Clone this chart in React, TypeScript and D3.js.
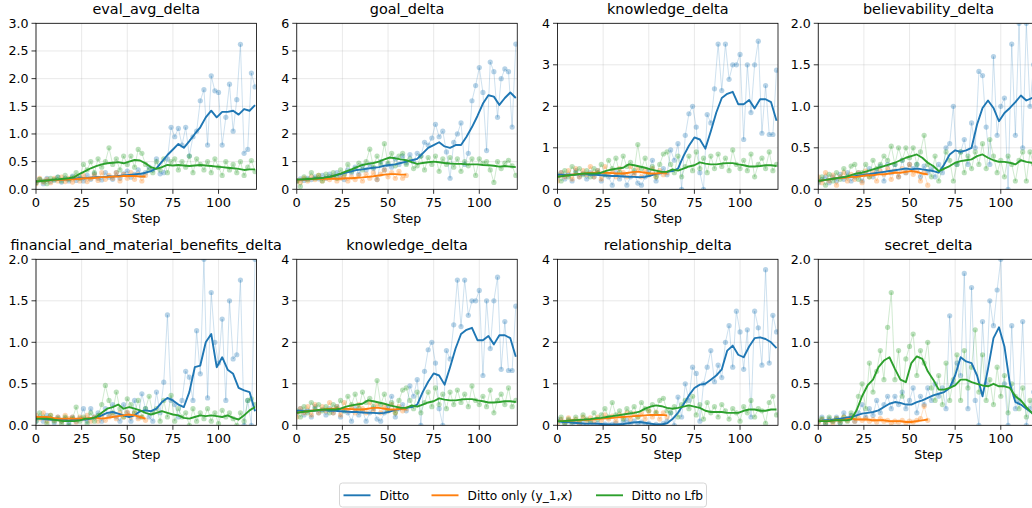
import React from 'react';
import * as d3 from 'd3';

// ---------- x positions (training steps) ----------
const rawSteps = d3.range(0, 121, 2);
const rawStepsShort = d3.range(0, 61, 2);
const smoothSteps = d3.range(0, 121, 3);
const smoothStepsShort = d3.range(0, 61, 3);

// ---------- panel titles / y limits ----------
const panelTitles = [
  'eval_avg_delta', 'goal_delta', 'knowledge_delta', 'believability_delta',
  'financial_and_material_benefits_delta', 'knowledge_delta', 'relationship_delta', 'secret_delta',
];
const panelYMax = [3, 6, 4, 2, 2, 4, 4, 2];
const xTicks = [0, 25, 50, 75, 100];
const seriesNames = ['Ditto', 'Ditto only (y_1,x)', 'Ditto no Lfb'];

// ---------- eval_avg_delta ----------
const evalDittoRaw = [
  0.12, 0.18, 0.1, 0.2, 0.14, 0.17, 0.22, 0.13, 0.2, 0.15,
  0.24, 0.16, 0.22, 0.15, 0.25, 0.18, 0.28, 0.2, 0.17, 0.3,
  0.22, 0.18, 0.3, 0.2, 0.28, 0.33, 0.22, 0.27, 0.35, 0.25,
  0.3, 0.4, 0.35, 0.55, 0.28, 0.3, 0.55, 1.12, 0.95, 1.1,
  0.8, 1.12, 0.6, 0.95, 1.05, 1.6, 1.8, 0.8, 2.05, 1.78,
  1.75, 0.8, 1.3, 1.9, 1.05, 1.62, 2.62, 0.65, 0.72, 2.1,
  1.85,
];
const evalDittoSmooth = [
  0.14, 0.15, 0.16, 0.17, 0.17, 0.18, 0.18, 0.19, 0.2, 0.2,
  0.21, 0.22, 0.22, 0.23, 0.23, 0.24, 0.25, 0.26, 0.27, 0.28,
  0.3, 0.33, 0.38, 0.5, 0.62, 0.72, 0.82, 0.75, 0.87, 1.0,
  1.12, 1.3, 1.42, 1.3, 1.4, 1.4, 1.42, 1.35, 1.45, 1.42,
  1.52,
];
const evalOnlyRaw = [
  0.1, 0.2, 0.13, 0.18, 0.12, 0.2, 0.15, 0.22, 0.14, 0.2,
  0.13, 0.22, 0.15, 0.25, 0.14, 0.2, 0.26, 0.16, 0.3, 0.18,
  0.25, 0.2, 0.3, 0.15, 0.27, 0.2, 0.3, 0.18, 0.27, 0.15,
  0.25,
];
const evalOnlySmooth = [
  0.14, 0.15, 0.16, 0.17, 0.17, 0.17, 0.18, 0.18, 0.19, 0.2,
  0.2, 0.21, 0.22, 0.22, 0.23, 0.23, 0.24, 0.24, 0.24, 0.23,
  0.23,
];
const evalNoLfbRaw = [
  0.12, 0.18, 0.15, 0.1, 0.2, 0.17, 0.22, 0.15, 0.25, 0.18,
  0.22, 0.3, 0.2, 0.45, 0.35, 0.5, 0.3, 0.55, 0.4, 0.5,
  0.75, 0.45, 0.55, 0.35, 0.6, 0.45, 0.6, 0.4, 0.72, 0.65,
  0.45, 0.35, 0.3, 0.5, 0.35, 0.55, 0.3, 0.5, 0.55, 0.35,
  0.5, 0.4, 0.6, 0.3, 0.55, 0.45, 0.35, 0.5, 0.3, 0.55,
  0.4, 0.25, 0.5, 0.35, 0.45, 0.3, 0.5, 0.25, 0.4, 0.52,
  0.32,
];
const evalNoLfbSmooth = [
  0.14, 0.15, 0.16, 0.17, 0.18, 0.19, 0.2, 0.22, 0.28, 0.33,
  0.38, 0.42, 0.45, 0.47, 0.48, 0.49, 0.47, 0.5, 0.53, 0.52,
  0.47, 0.4, 0.37, 0.4, 0.44, 0.43, 0.44, 0.43, 0.42, 0.43,
  0.44, 0.43, 0.42, 0.41, 0.4, 0.39, 0.38, 0.37, 0.35, 0.36,
  0.36,
];

// ---------- goal_delta ----------
const goalDittoRaw = [
  0.3, 0.38, 0.32, 0.4, 0.35, 0.45, 0.38, 0.5, 0.4, 0.55,
  0.45, 0.6, 0.5, 0.35, 0.7, 0.6, 0.8, 0.55, 0.85, 0.7,
  0.9, 0.75, 0.35, 1.0, 0.7, 0.9, 0.8, 1.1, 0.9, 1.2,
  0.95, 1.25, 1.0, 1.3, 1.2, 1.7, 1.6, 1.85, 2.35, 1.9,
  2.1, 1.35, 0.4, 1.7, 2.0, 2.4, 0.9, 1.3, 3.2, 3.75,
  4.4, 3.5, 1.4, 4.6, 4.25, 2.6, 4.0, 4.35, 4.25, 2.25,
  5.25,
];
const goalDittoSmooth = [
  0.35, 0.35, 0.36, 0.38, 0.4, 0.42, 0.45, 0.5, 0.55, 0.6,
  0.65, 0.7, 0.72, 0.75, 0.78, 0.8, 0.85, 0.88, 0.9, 0.95,
  1.0, 1.05, 1.1, 1.3, 1.5, 1.6, 1.7, 1.55, 1.5, 1.6,
  1.6, 1.9, 2.25, 2.65, 3.1, 3.4, 3.35, 3.05, 3.3, 3.5,
  3.3,
];
const goalOnlyRaw = [
  0.3, 0.25, 0.4, 0.3, 0.45, 0.35, 0.5, 0.3, 0.4, 0.35,
  0.45, 0.3, 0.4, 0.5, 0.3, 0.45, 0.35, 0.5, 0.3, 0.55,
  0.4, 0.6, 0.35, 0.55, 0.7, 0.45, 0.6, 0.4, 0.65, 0.4,
  0.5,
];
const goalOnlySmooth = [
  0.35, 0.35, 0.36, 0.37, 0.38, 0.38, 0.38, 0.38, 0.38, 0.4,
  0.4, 0.42, 0.43, 0.45, 0.47, 0.5, 0.53, 0.55, 0.55, 0.53,
  0.53,
];
const goalNoLfbRaw = [
  0.3, 0.1, 0.45, 0.35, 0.6, 0.4, 0.5, 0.3, 0.55, 0.45,
  0.6, 0.4, 0.7, 0.55, 0.9, 0.65, 0.75, 0.95, 0.7, 1.0,
  1.45, 0.8, 1.2, 0.9, 1.65, 0.95, 1.3, 0.85, 1.2, 1.3,
  0.9, 1.1, 0.75, 0.85, 1.2, 0.7, 1.15, 0.9, 1.2, 0.65,
  1.1, 0.9, 1.15, 0.8, 1.1, 0.65, 1.0, 0.85, 1.1, 0.5,
  1.1, 0.95, 1.0, 0.7, 0.25, 1.0, 0.75, 0.95, 1.05, 0.85,
  0.5,
];
const goalNoLfbSmooth = [
  0.35, 0.36, 0.37, 0.38, 0.4, 0.42, 0.45, 0.5, 0.57, 0.65,
  0.72, 0.8, 0.88, 0.92, 0.95, 1.0, 1.08, 1.15, 1.12, 1.08,
  1.05, 0.98, 0.92, 0.95, 0.98, 1.0, 0.98, 0.95, 0.93, 0.92,
  0.92, 0.9, 0.9, 0.9, 0.88, 0.87, 0.85, 0.82, 0.84, 0.82,
  0.8,
];

// ---------- knowledge_delta ----------
const knowDittoRaw = [
  0.3, 0.4, 0.25, 0.35, 0.2, 0.45, 0.3, 0.38, 0.25, 0.4,
  0.3, 0.45, 0.2, 0.35, 0.3, 0.1, 0.4, 0.25, 0.35, 0.1,
  0.3, 0.4, 0.15, 0.1, 0.3, 0.45, 0.7, 0.2, 0.4, 0.5,
  0.35, 0.95, 0.7, 1.1, 0.0, 1.3, 1.82, 2.0, 1.5, 0.4,
  0.0, 1.8, 1.6, 2.42, 3.5, 2.38, 3.5, 2.65, 3.0, 3.0,
  3.25, 1.2, 3.0, 1.85, 3.0, 3.57, 1.35, 2.5, 1.32, 1.32,
  2.87,
];
const knowDittoSmooth = [
  0.35, 0.35, 0.35, 0.35, 0.36, 0.36, 0.35, 0.35, 0.34, 0.33,
  0.32, 0.32, 0.31, 0.3, 0.3, 0.29, 0.3, 0.33, 0.37, 0.4,
  0.42, 0.44, 0.5, 0.8, 1.05, 1.25, 1.2, 0.98, 1.4, 1.85,
  2.2, 2.3, 2.35, 2.05, 2.05, 2.15, 1.95, 2.17, 2.17, 2.1,
  1.65,
];
const knowOnlyRaw = [
  0.2, 0.4, 0.3, 0.45, 0.25, 0.5, 0.3, 0.45, 0.35, 0.55,
  0.3, 0.45, 0.25, 0.55, 0.35, 0.45, 0.3, 0.5, 0.4, 0.3,
  0.55, 0.35, 0.5, 0.3, 0.45, 0.35, 0.5, 0.3, 0.45, 0.35,
  0.4,
];
const knowOnlySmooth = [
  0.3, 0.32, 0.34, 0.36, 0.37, 0.38, 0.4, 0.4, 0.4, 0.4,
  0.39, 0.38, 0.38, 0.4, 0.42, 0.42, 0.4, 0.38, 0.38, 0.4,
  0.4,
];
const knowNoLfbRaw = [
  0.35, 0.2, 0.45, 0.3, 0.55, 0.4, 0.5, 0.35, 0.45, 0.3,
  0.5, 0.4, 0.6, 0.35, 0.7, 0.5, 0.75, 0.4, 0.8, 0.55,
  0.65, 0.45, 1.08, 0.5, 0.75, 0.35, 0.55, 0.3, 0.6, 0.85,
  0.9, 0.6, 0.4, 0.8, 0.3, 0.55, 0.8, 0.45, 0.9, 0.5,
  0.75, 0.4, 0.8, 0.5, 0.85, 0.55, 0.75, 0.45, 0.95, 0.6,
  0.5, 0.7, 0.45, 0.85, 0.3, 0.6, 0.75, 0.5, 0.9, 0.45,
  0.6,
];
const knowNoLfbSmooth = [
  0.3, 0.32, 0.34, 0.35, 0.37, 0.38, 0.38, 0.38, 0.4, 0.45,
  0.48, 0.5, 0.52, 0.6, 0.58, 0.55, 0.52, 0.48, 0.45, 0.42,
  0.42, 0.48, 0.45, 0.5, 0.55, 0.58, 0.65, 0.62, 0.6, 0.6,
  0.62, 0.63, 0.63, 0.6, 0.58, 0.55, 0.55, 0.56, 0.58, 0.58,
  0.56,
];

// ---------- believability_delta ----------
const belDittoRaw = [
  0.08, 0.12, 0.15, 0.08, 0.15, 0.1, 0.18, 0.12, 0.2, 0.1,
  0.15, 0.2, 0.1, 0.18, 0.25, 0.15, 0.22, 0.28, 0.1, 0.3,
  0.2, 0.3, 0.15, 0.35, 0.2, 0.3, 0.25, 0.3, 0.15, 0.28,
  0.2, 0.25, 0.15, 0.3, 0.2, 0.5, 0.55, 1.0, 0.3, 0.45,
  0.6, 0.3, 0.8, 0.5, 1.42, 1.37, 0.75, 0.3, 1.6, 0.65,
  1.0, 1.1, 0.0, 1.75, 0.65, 2.0, 0.5, 2.0, 1.0, 1.5,
  0.8,
];
const belDittoSmooth = [
  0.1, 0.11, 0.12, 0.13, 0.14, 0.15, 0.15, 0.16, 0.17, 0.18,
  0.19, 0.2, 0.21, 0.22, 0.23, 0.24, 0.25, 0.24, 0.25, 0.24,
  0.23, 0.22, 0.2, 0.3, 0.42, 0.47, 0.45, 0.47, 0.5, 0.78,
  0.98, 1.07, 0.98, 0.82, 0.92, 0.98, 1.05, 1.13, 1.07, 1.1,
  1.1,
];
const belOnlyRaw = [
  0.15, 0.08, 0.2, 0.1, 0.17, 0.05, 0.15, 0.2, 0.1, 0.18,
  0.12, 0.2, 0.08, 0.22, 0.15, 0.2, 0.1, 0.22, 0.18, 0.25,
  0.12, 0.22, 0.15, 0.25, 0.2, 0.3, 0.18, 0.22, 0.1, 0.2,
  0.05,
];
const belOnlySmooth = [
  0.1, 0.11, 0.12, 0.13, 0.14, 0.14, 0.15, 0.15, 0.16, 0.17,
  0.17, 0.18, 0.18, 0.19, 0.2, 0.2, 0.21, 0.22, 0.21, 0.19,
  0.18,
];
const belNoLfbRaw = [
  0.1, 0.15, 0.05, 0.18, 0.1, 0.2, 0.12, 0.25, 0.15, 0.28,
  0.3, 0.12, 0.2, 0.3, 0.15, 0.35, 0.25, 0.3, 0.4, 0.35,
  0.52, 0.3, 0.5, 0.35, 0.5, 0.38, 0.5, 0.3, 0.45, 0.65,
  0.3, 0.15, 0.4, 0.1, 0.25, 0.45, 0.35, 0.1, 0.3, 0.45,
  0.2, 0.4, 0.25, 0.45, 0.3, 0.55, 0.25, 0.6, 0.4, 0.2,
  0.35, 0.15, 0.4, 0.3, 0.1, 0.35, 0.45, 0.1, 0.45, 0.3,
  0.4,
];
const belNoLfbSmooth = [
  0.1, 0.11, 0.12, 0.13, 0.14, 0.15, 0.17, 0.19, 0.2, 0.22,
  0.24, 0.26, 0.28, 0.3, 0.32, 0.35, 0.38, 0.4, 0.42, 0.38,
  0.32, 0.28, 0.22, 0.25, 0.28, 0.32, 0.34, 0.35, 0.36, 0.4,
  0.42, 0.38, 0.35, 0.33, 0.33, 0.32, 0.3, 0.35, 0.33, 0.32,
  0.32,
];

// ---------- financial_and_material_benefits_delta ----------
const finDittoRaw = [
  0.05, 0.1, 0.05, 0.12, 0.08, 0.03, 0.1, 0.05, 0.08, 0.03,
  0.1, 0.05, 0.08, 0.2, 0.05, 0.2, 0.1, 0.15, 0.05, 0.2,
  0.12, 0.25, 0.1, 0.05, 0.25, 0.15, 0.05, 0.3, 0.1, 0.38,
  0.2, 0.1, 0.05, 0.4, 0.15, 0.52, 1.33, 0.3, 0.25, 0.1,
  0.3, 0.65, 0.58, 0.3, 1.14, 0.62, 2.0, 0.33, 1.6, 1.0,
  0.75, 1.28, 0.3, 1.5, 0.8, 0.85, 1.75, 0.0, 0.3, 0.0,
  2.0,
];
const finDittoSmooth = [
  0.08, 0.08, 0.07, 0.07, 0.07, 0.07, 0.06, 0.07, 0.07, 0.07,
  0.08, 0.09, 0.12, 0.15, 0.16, 0.14, 0.12, 0.1, 0.12, 0.17,
  0.18, 0.17, 0.2, 0.28, 0.33, 0.3, 0.25, 0.22, 0.4, 0.7,
  0.72, 1.0, 1.1, 0.7, 0.82, 0.67, 0.62, 0.45, 0.42, 0.4,
  0.17,
];
const finOnlyRaw = [
  0.12, 0.08, 0.15, 0.05, 0.12, 0.06, 0.1, 0.05, 0.12, 0.08,
  0.1, 0.04, 0.1, 0.08, 0.12, 0.05, 0.1, 0.05, 0.12, 0.06,
  0.1, 0.14, 0.08, 0.15, 0.1, 0.16, 0.1, 0.15, 0.08, 0.1,
  0.06,
];
const finOnlySmooth = [
  0.1, 0.1, 0.1, 0.09, 0.08, 0.08, 0.08, 0.08, 0.08, 0.08,
  0.09, 0.09, 0.08, 0.09, 0.1, 0.11, 0.12, 0.13, 0.12, 0.1,
  0.08,
];
const finNoLfbRaw = [
  0.05, 0.15, 0.1, 0.02, 0.12, 0.05, 0.08, 0.02, 0.1, 0.0,
  0.08, 0.22, 0.05, 0.1, 0.02, 0.15, 0.05, 0.12, 0.25, 0.48,
  0.3, 0.15, 0.4, 0.2, 0.1, 0.32, 0.25, 0.15, 0.3, 0.1,
  0.2, 0.35, 0.15, 0.2, 0.05, 0.3, 0.1, 0.36, 0.05, 0.2,
  0.1, 0.15, 0.0, 0.2, 0.05, 0.15, 0.08, 0.2, 0.05, 0.15,
  0.02, 0.18, 0.1, 0.15, 0.08, 0.0, 0.15, 0.05, 0.3, 0.32,
  0.25,
];
const finNoLfbSmooth = [
  0.08, 0.08, 0.08, 0.07, 0.06, 0.05, 0.05, 0.05, 0.06, 0.08,
  0.08, 0.1, 0.15, 0.2, 0.22, 0.25, 0.2, 0.22, 0.2, 0.18,
  0.15, 0.13, 0.15, 0.17, 0.15, 0.13, 0.12, 0.09, 0.08, 0.1,
  0.12, 0.11, 0.12, 0.11, 0.1, 0.12, 0.09, 0.07, 0.12, 0.18,
  0.22,
];

// ---------- relationship_delta ----------
const relDittoRaw = [
  0.15, 0.1, 0.05, 0.12, 0.02, 0.08, 0.03, 0.05, 0.0, 0.06,
  0.02, 0.05, 0.0, 0.03, 0.01, 0.02, 0.05, 0.0, 0.08, 0.12,
  0.05, 0.1, 0.02, 0.08, 0.0, 0.05, 0.0, 0.02, 0.0, 0.05,
  0.1, 0.3, 0.0, 0.68, 0.2, 1.0, 0.6, 1.4, 1.25, 0.1,
  1.0, 1.4, 1.8, 1.05, 1.45, 1.15, 2.0, 2.4, 1.4, 2.75,
  2.25, 1.35, 2.3, 0.2, 2.75, 2.35, 1.45, 3.75, 1.5, 2.65,
  2.25,
];
const relDittoSmooth = [
  0.1, 0.08, 0.07, 0.06, 0.05, 0.04, 0.04, 0.04, 0.03, 0.02,
  0.02, 0.02, 0.03, 0.05, 0.07, 0.08, 0.06, 0.04, 0.02, 0.02,
  0.05, 0.15, 0.3, 0.5, 0.72, 0.9, 0.98, 1.0, 1.1, 1.2,
  1.35, 1.8, 1.92, 1.7, 1.64, 1.9, 2.1, 2.12, 2.08, 2.0,
  1.86,
];
const relOnlyRaw = [
  0.05, 0.15, 0.08, 0.18, 0.1, 0.15, 0.05, 0.2, 0.12, 0.18,
  0.1, 0.2, 0.12, 0.25, 0.15, 0.22, 0.1, 0.25, 0.18, 0.3,
  0.15, 0.28, 0.2, 0.3, 0.15, 0.35, 0.2, 0.32, 0.15, 0.3,
  0.2,
];
const relOnlySmooth = [
  0.1, 0.1, 0.11, 0.12, 0.12, 0.13, 0.14, 0.15, 0.16, 0.17,
  0.18, 0.19, 0.2, 0.21, 0.22, 0.23, 0.24, 0.25, 0.25, 0.25,
  0.24,
];
const relNoLfbRaw = [
  0.1, 0.2, 0.05, 0.15, 0.08, 0.2, 0.1, 0.25, 0.15, 0.1,
  0.3, 0.15, 0.25, 0.4, 0.2, 0.55, 0.25, 0.35, 0.15, 0.4,
  0.3, 0.45, 0.2, 0.55, 0.4, 0.35, 0.5, 0.3, 0.6, 0.65,
  0.35, 0.3, 0.45, 0.2, 0.5, 0.6, 0.4, 0.7, 0.25, 0.5,
  0.15, 0.55, 0.3, 0.45, 0.2, 0.5, 0.35, 0.15, 0.4, 0.3,
  0.1, 0.45, 0.3, 0.6, 0.2, 0.4, 0.35, 0.05, 0.55, 0.7,
  0.25,
];
const relNoLfbSmooth = [
  0.1, 0.1, 0.11, 0.12, 0.13, 0.14, 0.15, 0.17, 0.18, 0.2,
  0.22, 0.24, 0.26, 0.28, 0.3, 0.33, 0.4, 0.45, 0.48, 0.46,
  0.42, 0.4, 0.42, 0.45, 0.48, 0.45, 0.42, 0.35, 0.32, 0.32,
  0.32, 0.3, 0.3, 0.3, 0.35, 0.38, 0.38, 0.35, 0.35, 0.38,
  0.38,
];

// ---------- secret_delta ----------
const secDittoRaw = [
  0.05, 0.1, 0.02, 0.08, 0.05, 0.1, 0.03, 0.15, 0.08, 0.12,
  0.05, 0.15, 0.25, 0.1, 0.2, 0.12, 0.3, 0.15, 0.25, 0.35,
  0.2, 0.35, 0.25, 0.4, 0.2, 0.3, 0.45, 0.15, 0.35, 0.25,
  0.45, 0.3, 0.5, 0.35, 0.45, 0.2, 1.32, 0.5, 0.75, 0.6,
  1.83, 0.2, 1.66, 0.3, 0.0, 1.25, 0.5, 1.5, 1.2, 1.63,
  2.0, 0.5, 0.0, 1.2, 0.2, 0.3, 1.25, 0.0, 0.2, 0.4,
  0.1,
];
const secDittoSmooth = [
  0.05, 0.06, 0.06, 0.07, 0.08, 0.09, 0.1, 0.12, 0.14, 0.15,
  0.16, 0.18, 0.22, 0.26, 0.28, 0.27, 0.25, 0.25, 0.28, 0.3,
  0.33, 0.36, 0.38, 0.4, 0.45, 0.6, 0.82, 0.77, 0.75, 0.6,
  0.35, 0.68, 1.05, 1.18, 0.95, 0.5, 0.28, 0.25, 0.2, 0.15,
  0.15,
];
const secOnlyRaw = [
  0.03, 0.07, 0.04, 0.06, 0.03, 0.08, 0.05, 0.1, 0.06, 0.1,
  0.05, 0.09, 0.06, 0.08, 0.05, 0.07, 0.04, 0.08, 0.05, 0.06,
  0.03, 0.05, 0.04, 0.06, 0.03, 0.05, 0.04, 0.06, 0.08, 0.23,
  0.06,
];
const secOnlySmooth = [
  0.05, 0.05, 0.05, 0.06, 0.06, 0.07, 0.08, 0.07, 0.07, 0.07,
  0.06, 0.06, 0.06, 0.05, 0.05, 0.05, 0.04, 0.04, 0.05, 0.06,
  0.07,
];
const secNoLfbRaw = [
  0.05, 0.08, 0.02, 0.1, 0.05, 0.08, 0.03, 0.1, 0.05, 0.15,
  0.1, 0.35, 0.5, 0.2, 0.75, 0.4, 0.65, 0.9, 0.55, 1.18,
  1.6, 0.55, 0.9, 0.35, 0.8, 0.95, 1.1, 0.6, 0.9, 0.75,
  1.0, 0.45, 0.3, 0.6, 0.25, 0.75, 0.3, 0.55, 0.85, 0.3,
  0.9, 0.45, 0.7, 1.15, 0.4, 0.85, 0.3, 0.55, 0.25, 0.7,
  0.35, 0.6, 0.15, 0.5, 0.35, 0.2, 0.45, 0.1, 0.3, 0.15,
  0.2,
];
const secNoLfbSmooth = [
  0.05, 0.05, 0.05, 0.06, 0.06, 0.06, 0.07, 0.18, 0.35, 0.48,
  0.55, 0.7, 0.78, 0.82, 0.68, 0.55, 0.52, 0.75, 0.83, 0.8,
  0.65, 0.55, 0.43, 0.43, 0.45, 0.48, 0.55, 0.55, 0.52, 0.5,
  0.48, 0.47, 0.5, 0.47, 0.47, 0.45, 0.35, 0.3, 0.22, 0.15,
  0.12,
];

// per panel: [ [dittoRaw, dittoSmooth], [onlyRaw, onlySmooth], [noLfbRaw, noLfbSmooth] ]
const panelSeries = [
  [[evalDittoRaw, evalDittoSmooth], [evalOnlyRaw, evalOnlySmooth], [evalNoLfbRaw, evalNoLfbSmooth]],
  [[goalDittoRaw, goalDittoSmooth], [goalOnlyRaw, goalOnlySmooth], [goalNoLfbRaw, goalNoLfbSmooth]],
  [[knowDittoRaw, knowDittoSmooth], [knowOnlyRaw, knowOnlySmooth], [knowNoLfbRaw, knowNoLfbSmooth]],
  [[belDittoRaw, belDittoSmooth], [belOnlyRaw, belOnlySmooth], [belNoLfbRaw, belNoLfbSmooth]],
  [[finDittoRaw, finDittoSmooth], [finOnlyRaw, finOnlySmooth], [finNoLfbRaw, finNoLfbSmooth]],
  [[knowDittoRaw, knowDittoSmooth], [knowOnlyRaw, knowOnlySmooth], [knowNoLfbRaw, knowNoLfbSmooth]],
  [[relDittoRaw, relDittoSmooth], [relOnlyRaw, relOnlySmooth], [relNoLfbRaw, relNoLfbSmooth]],
  [[secDittoRaw, secDittoSmooth], [secOnlyRaw, secOnlySmooth], [secNoLfbRaw, secNoLfbSmooth]],
];

// ---------- styling / layout ----------
const COLORS = ['#1f77b4', '#ff7f0e', '#2ca02c'];
const FONT = 'DejaVu Sans, sans-serif';
const W = 1032;
const H = 508;
const PW = 220.5;
const PH = 166;
const colLeft = (c: number) => 36 + c * 260.75;
const rowTop = [23.3, 259.3];

function Panel({ idx }: { idx: number }) {
  const col = idx % 4;
  const row = Math.floor(idx / 4);
  const left = colLeft(col);
  const top = rowTop[row];
  const yMax = panelYMax[idx];
  const x = d3.scaleLinear().domain([0, 120.8]).range([left, left + PW]);
  const y = d3.scaleLinear().domain([0, yMax]).range([top + PH, top]);
  const yStep = yMax <= 3 ? 0.5 : 1;
  const yTicks = d3.range(0, yMax + 1e-9, yStep);
  const fmt = yStep < 1 ? d3.format('.1f') : d3.format('d');
  const line = d3.line<[number, number]>().x((d) => x(d[0])).y((d) => y(d[1]));
  const series = panelSeries[idx];
  const clipId = `clip-${idx}`;

  const rawPts = series.map((s, si) => {
    const steps = si === 1 ? rawStepsShort : rawSteps;
    return s[0].map((v, i) => [steps[i], v] as [number, number]);
  });
  const smPts = series.map((s, si) => {
    const steps = si === 1 ? smoothStepsShort : smoothSteps;
    return s[1].map((v, i) => [steps[i], v] as [number, number]);
  });

  return (
    <g>
      <defs>
        <clipPath id={clipId}>
          <rect x={left} y={top} width={PW} height={PH} />
        </clipPath>
      </defs>
      {/* grid */}
      {xTicks.map((t) => (
        <line key={'gx' + t} x1={x(t)} x2={x(t)} y1={top} y2={top + PH} stroke="#b0b0b0" strokeOpacity={0.35} strokeWidth={0.8} />
      ))}
      {yTicks.map((t) => (
        <line key={'gy' + t} x1={left} x2={left + PW} y1={y(t)} y2={y(t)} stroke="#b0b0b0" strokeOpacity={0.35} strokeWidth={0.8} />
      ))}
      <g clipPath={`url(#${clipId})`}>
        {rawPts.map((pts, si) => (
          <g key={'raw' + si}>
            <path d={line(pts) || ''} fill="none" stroke={COLORS[si]} strokeOpacity={0.22} strokeWidth={1} />
            {pts.map((p, i) => (
              <circle key={i} cx={x(p[0])} cy={y(p[1])} r={2.6} fill={COLORS[si]} fillOpacity={0.32} />
            ))}
          </g>
        ))}
        {smPts.map((pts, si) => (
          <path key={'sm' + si} d={line(pts) || ''} fill="none" stroke={COLORS[si]} strokeWidth={1.9} strokeLinejoin="round" />
        ))}
      </g>
      {/* frame */}
      <rect x={left} y={top} width={PW} height={PH} fill="none" stroke="#000" strokeWidth={0.8} />
      {/* x ticks */}
      {xTicks.map((t) => (
        <g key={'xt' + t}>
          <line x1={x(t)} x2={x(t)} y1={top + PH} y2={top + PH + 4.5} stroke="#000" strokeWidth={0.8} />
          <text x={x(t)} y={top + PH + 17.5} textAnchor="middle" fontSize={13} fontFamily={FONT} fill="#000">{t}</text>
        </g>
      ))}
      {/* y ticks */}
      {yTicks.map((t) => (
        <g key={'yt' + t}>
          <line x1={left - 4.5} x2={left} y1={y(t)} y2={y(t)} stroke="#000" strokeWidth={0.8} />
          <text x={left - 7.5} y={y(t) + 4.5} textAnchor="end" fontSize={12.6} fontFamily={FONT} fill="#000">{fmt(t)}</text>
        </g>
      ))}
      <text x={left + PW / 2} y={top + PH + 34} textAnchor="middle" fontSize={12.5} fontFamily={FONT} fill="#000">Step</text>
      <text x={left + PW / 2} y={top - 9.3} textAnchor="middle" fontSize={14.4} fontFamily={FONT} fill="#000">{panelTitles[idx]}</text>
    </g>
  );
}

function Legend() {
  const entries = [
    { x1: 343.5, x2: 370.5, tx: 379.5 },
    { x1: 431.5, x2: 458.5, tx: 467.5 },
    { x1: 596, x2: 623, tx: 631.5 },
  ];
  const cy = 495.3;
  return (
    <g>
      <rect x={339.5} y={483} width={367} height={24} rx={3} fill="#fff" fillOpacity={0.8} stroke="#cccccc" strokeWidth={0.8} />
      {entries.map((e, i) => (
        <g key={i}>
          <line x1={e.x1} x2={e.x2} y1={cy} y2={cy} stroke={COLORS[i]} strokeWidth={1.9} />
          <text x={e.tx} y={cy + 4.3} fontSize={12.2} fontFamily={FONT} fill="#000">{seriesNames[i]}</text>
        </g>
      ))}
    </g>
  );
}

export default function App() {
  return (
    <svg width={W} height={H} style={{ position: 'absolute', left: 0, top: 0, background: '#fff' }}>
      <rect x={0} y={0} width={W} height={H} fill="#fff" />
      {panelTitles.map((_, i) => (
        <Panel key={i} idx={i} />
      ))}
      <Legend />
    </svg>
  );
}
